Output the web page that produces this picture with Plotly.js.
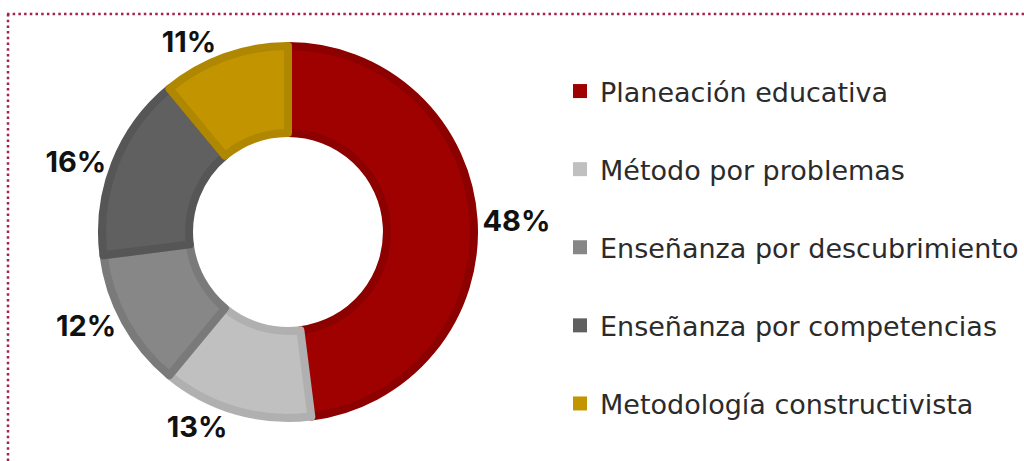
<!DOCTYPE html>
<html>
<head>
<meta charset="utf-8">
<script src="https://cdn.plot.ly/plotly-3.0.1.min.js"></script>
<style>
html,body{margin:0;padding:0;background:#fff;}
#chart{width:1024px;height:461px;}
</style>
</head>
<body>
<div id="chart"></div>
<script>
const categories = ["Planeación educativa", "Método por problemas", "Enseñanza por descubrimiento", "Enseñanza por competencias", "Metodología constructivista"];
const values = [48, 13, 12, 16, 11];
const fillColors = ["#9f0000", "#c0c0c0", "#878787", "#606060", "#c29500"];
const edgeColors = ["#8c0000", "#b0b0b0", "#7a7a7a", "#565656", "#b08700"];

const W = 1024, H = 461;
const cx = 288, cy = 232, R = 186;

const pie = {
  type: "pie",
  labels: categories,
  values: values,
  sort: false,
  direction: "clockwise",
  rotation: 0,
  hole: 0.532,
  showlegend: false,
  marker: {colors: fillColors, line: {color: edgeColors, width: 8}},
  texttemplate: "%{value}%",
  textposition: "outside",
  textfont: {family: "Inter, 'Open Sans', sans-serif", size: 29, color: "#111111", weight: "bold"},
  domain: {x: [(cx - R) / W, (cx + R) / W], y: [(H - cy - R) / H, (H - cy + R) / H]},
  hoverinfo: "label+percent"
};

const legendTraces = categories.map((c, i) => ({
  type: "scatter",
  mode: "markers",
  x: [null], y: [null],
  name: c,
  legendgroup: "g" + i,
  marker: {symbol: "square", size: 14, color: fillColors[i]},
  hoverinfo: "skip"
}));

const dotLine = {color: "#a3234d", width: 2.5, dash: "2.5px,3.2px"};

const layout = {
  width: W, height: H,
  margin: {l: 0, r: 0, t: 0, b: 0},
  paper_bgcolor: "#ffffff",
  plot_bgcolor: "#ffffff",
  xaxis: {visible: false, domain: [0.98, 1]},
  yaxis: {visible: false, domain: [0.98, 1]},
  showlegend: true,
  legend: {
    x: 560 / W, y: 1 - 67 / H, xanchor: "left", yanchor: "top",
    traceorder: "grouped", tracegroupgap: 40,
    font: {family: "'DejaVu Sans', sans-serif", size: 27, color: "#2b2b2b"},
    bgcolor: "rgba(0,0,0,0)"
  },
  shapes: [
    {type: "line", xref: "paper", yref: "paper", x0: 7 / W, x1: 1, y0: 1 - 14 / H, y1: 1 - 14 / H, line: dotLine},
    {type: "line", xref: "paper", yref: "paper", x0: 8 / W, x1: 8 / W, y0: 1 - 14 / H, y1: 0, line: dotLine}
  ]
};

Plotly.newPlot("chart", [pie].concat(legendTraces), layout, {displayModeBar: false, staticPlot: true});
</script>
</body>
</html>
